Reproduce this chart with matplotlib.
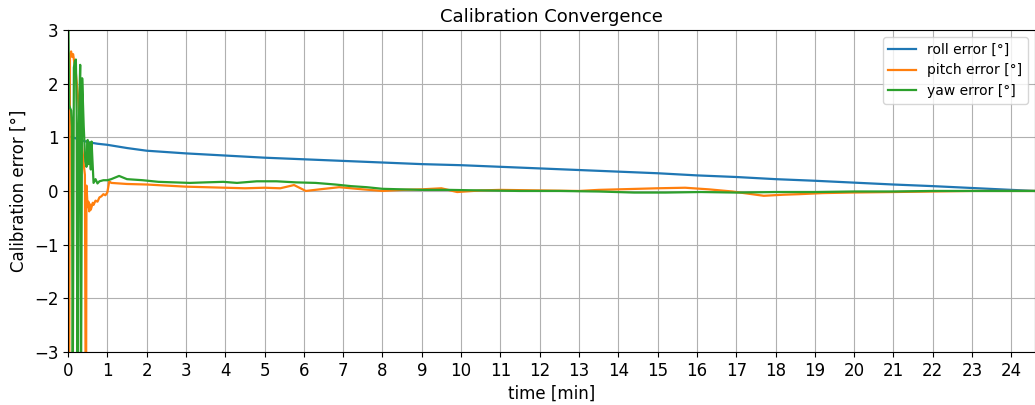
import matplotlib
matplotlib.use("Agg")
import matplotlib.pyplot as plt

# roll error [deg] vs time [min]
t_roll = [0, 0.25, 0.5, 0.75, 1, 1.5, 2, 3, 4, 5, 6, 7, 8, 9, 10, 11, 12, 13,
          14, 15, 16, 17, 18, 19, 20, 21, 22, 23, 24, 24.6]
roll = [1.02, 0.97, 0.91, 0.88, 0.86, 0.8, 0.75, 0.7, 0.66, 0.62, 0.59, 0.56,
        0.53, 0.5, 0.48, 0.45, 0.42, 0.39, 0.36, 0.33, 0.29, 0.26, 0.22, 0.19,
        0.155, 0.12, 0.09, 0.055, 0.02, 0.0]

# pitch error
t_pitch = [0, 0.03, 0.05, 0.08, 0.1, 0.13, 0.15, 0.2, 0.25, 0.3, 0.35, 0.4,
           0.43, 0.45, 0.46, 0.47, 0.5, 0.52, 0.54, 0.56, 0.58, 0.6, 0.63,
           0.65, 0.7, 0.75, 0.8, 0.85, 0.9, 0.95,
           1.0, 1.05, 1.1, 1.3, 1.5, 2, 2.5, 3, 3.5, 4, 4.5, 5, 5.4, 5.75, 6.05,
           6.4, 6.9, 7.5, 8, 8.5, 9, 9.5, 9.9, 10.5, 11, 12, 13, 13.5, 14, 15,
           15.7, 16.3, 16.9, 17.3, 17.7, 18.2, 18.6, 19.2, 19.9, 21, 22, 23, 24,
           24.6]
pitch = [-4, -4, 2.55, 2.6, 2.5, 2.55, 2.45, 2.2, 1.8, 1.3, 0.9, 0.5,
         0.3, -4, -4, 0.1, -0.3, -0.2, -0.38, -0.25, -0.35, -0.3, -0.22,
         -0.26, -0.18, -0.2, -0.12, -0.1, -0.06, -0.08,
         -0.03, 0.18, 0.15, 0.14, 0.13, 0.12, 0.1, 0.08, 0.07, 0.06, 0.05, 0.06,
         0.05, 0.11, 0.0, 0.03, 0.07, 0.03, 0.0, 0.02, 0.03, 0.05, -0.02, 0.01,
         0.02, 0.01, 0.0, 0.02, 0.03, 0.05, 0.06, 0.03, -0.01, -0.05, -0.09,
         -0.07, -0.06, -0.04, -0.03, -0.02, -0.01, 0.0, 0.0, 0.0]

# yaw error
t_yaw = [0, 0.03, 0.05, 0.08, 0.1, 0.12, 0.15, 0.17, 0.2, 0.22, 0.24, 0.27,
         0.31, 0.33, 0.36, 0.4, 0.44, 0.47, 0.5, 0.52, 0.55, 0.58, 0.6, 0.62,
         0.65, 0.7, 0.75,
         0.8, 0.9, 1.0, 1.1, 1.3, 1.5, 1.9, 2.3, 2.7, 3.1, 3.5, 3.95, 4.3, 4.8,
         5.3, 5.8, 6.3, 6.8, 7.2, 7.6, 8, 8.5, 9, 9.7, 10.5, 11.5, 12.5, 13.5,
         14.4, 15.2, 16.1, 17, 18, 19, 20, 21, 22, 23, 24, 24.6]
yaw = [4, 1.6, 1.55, 1.5, 1.2, -4, 2.3, 2.4, 2.45, 1.5, -4, 1.0,
       2.35, -4, 2.1, 1.2, 0.55, 0.45, 0.95, 0.5, 0.9, 0.4, 0.92, 0.6,
       0.15, 0.22, 0.14,
       0.18, 0.2, 0.2, 0.22, 0.28, 0.22, 0.2, 0.17, 0.16, 0.15, 0.16, 0.17,
       0.15, 0.18, 0.18, 0.16, 0.15, 0.12, 0.09, 0.07, 0.04, 0.03, 0.02, 0.02,
       0.01, 0.0, 0.0, -0.01, -0.03, -0.03, -0.02, -0.03, -0.02, -0.02, -0.01,
       -0.01, 0.0, 0.0, 0.0, 0.0]

fig = plt.figure(figsize=(10.35, 4.05), dpi=100)
ax = fig.add_axes([0.0657, 0.131, 0.9343, 0.795])

ax.plot(t_roll, roll, label="roll error [°]", lw=1.6)
ax.plot(t_pitch, pitch, label="pitch error [°]", lw=1.6)
ax.plot(t_yaw, yaw, label="yaw error [°]", lw=1.6)

ax.set_xlim(0, 24.6)
ax.set_ylim(-3, 3)
ax.set_xticks(range(0, 25))
ax.set_yticks(range(-3, 4))
ax.tick_params(labelsize=12)
ax.set_xlabel("time [min]", fontsize=12)
ax.set_ylabel("Calibration error [°]", fontsize=12)
ax.set_title("Calibration Convergence", fontsize=13)
ax.grid(True)
ax.legend(loc="upper right", fontsize=10)

fig.savefig("out.png", dpi=100)
